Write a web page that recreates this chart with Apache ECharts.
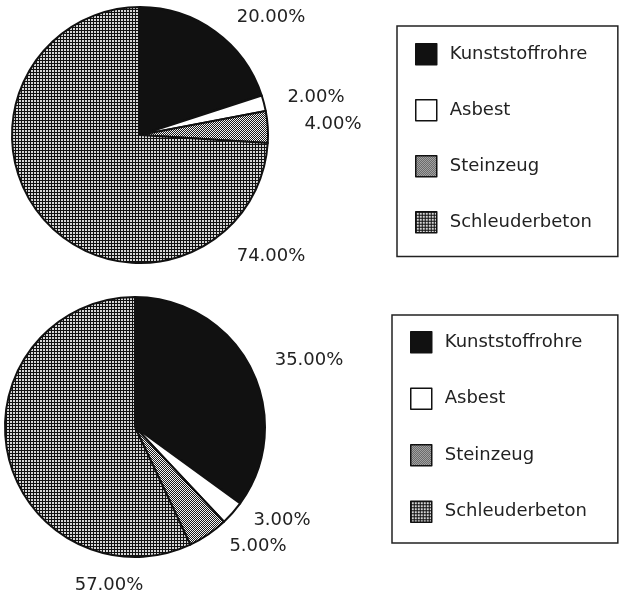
<!DOCTYPE html>
<html>
<head>
<meta charset="utf-8">
<script src="https://cdn.jsdelivr.net/npm/echarts@6/dist/echarts.min.js"></script>
<style>
  html, body { margin: 0; padding: 0; background: #fff; }
  #chart { width: 620px; height: 593px; }
</style>
</head>
<body>
<div id="chart"></div>
<script>
// Pipe materials and their shares (percent) for the two networks
const categories = ['Kunststoffrohre', 'Asbest', 'Steinzeug', 'Schleuderbeton'];
const sharesTop = [20, 2, 4, 74];
const sharesBottom = [35, 3, 5, 57];

// Label anchor points (px) for each slice, in category order
const labelPosTop = [[271, 17], [316, 97], [333, 124], [271, 256]];
const labelPosBottom = [[309, 360], [282, 520], [258, 546], [109, 585]];

// Small repeating raster fills for the hatched materials
function makePattern(size, paint) {
  const c = document.createElement('canvas');
  c.width = size; c.height = size;
  const ctx = c.getContext('2d');
  paint(ctx);
  return { image: c, repeat: 'repeat' };
}
const dotGrid = makePattern(3, ctx => {
  ctx.fillStyle = '#111111'; ctx.fillRect(0, 0, 3, 3);
  ctx.fillStyle = '#d6d6d6'; ctx.fillRect(1, 1, 2, 2);
});
const checker = makePattern(2, ctx => {
  ctx.fillStyle = '#f4f4f4'; ctx.fillRect(0, 0, 2, 2);
  ctx.fillStyle = '#1a1a1a'; ctx.fillRect(1, 0, 1, 1); ctx.fillRect(0, 1, 1, 1);
});
const fills = ['#111111', '#ffffff', checker, dotGrid];

const FONT = 'DejaVu Sans';

function buildData(values) {
  return categories.map((name, i) => ({
    name: name,
    value: values[i],
    itemStyle: { color: fills[i] }
  }));
}

function pieSeries(values, center, radius, positions) {
  return {
    type: 'pie',
    center: center,
    radius: radius,
    startAngle: 90,
    clockwise: true,
    avoidLabelOverlap: false,
    silent: true,
    data: buildData(values),
    itemStyle: { borderColor: '#111', borderWidth: 2 },
    label: {
      show: true,
      position: 'outside',
      formatter: p => p.value.toFixed(2) + '%',
      fontFamily: FONT,
      fontSize: 18,
      color: '#222'
    },
    labelLine: { show: false },
    labelLayout: params => {
      const p = positions[params.dataIndex];
      return { x: p[0], y: p[1], align: 'center', verticalAlign: 'middle' };
    }
  };
}

function legendBox(left, top, padding, gap) {
  return {
    data: categories,
    orient: 'vertical',
    left: left,
    top: top,
    padding: padding,
    itemGap: gap,
    itemWidth: 21,
    itemHeight: 21,
    icon: 'rect',
    selectedMode: false,
    borderColor: '#222',
    borderWidth: 1.5,
    itemStyle: { borderColor: '#111', borderWidth: 1.5 },
    textStyle: {
      fontFamily: FONT,
      fontSize: 18,
      color: '#222',
      padding: [0, 0, 0, 8]
    }
  };
}

const chart = echarts.init(document.getElementById('chart'), null, { renderer: 'canvas' });
chart.setOption({
  backgroundColor: '#ffffff',
  animation: false,
  legend: [
    legendBox(397, 26, [17, 26, 23, 18], 33.5),
    legendBox(392, 315, [16, 31, 20, 18], 34)
  ],
  series: [
    pieSeries(sharesTop, [140, 135], 128, labelPosTop),
    pieSeries(sharesBottom, [135, 427], 130, labelPosBottom)
  ]
});
</script>
</body>
</html>
